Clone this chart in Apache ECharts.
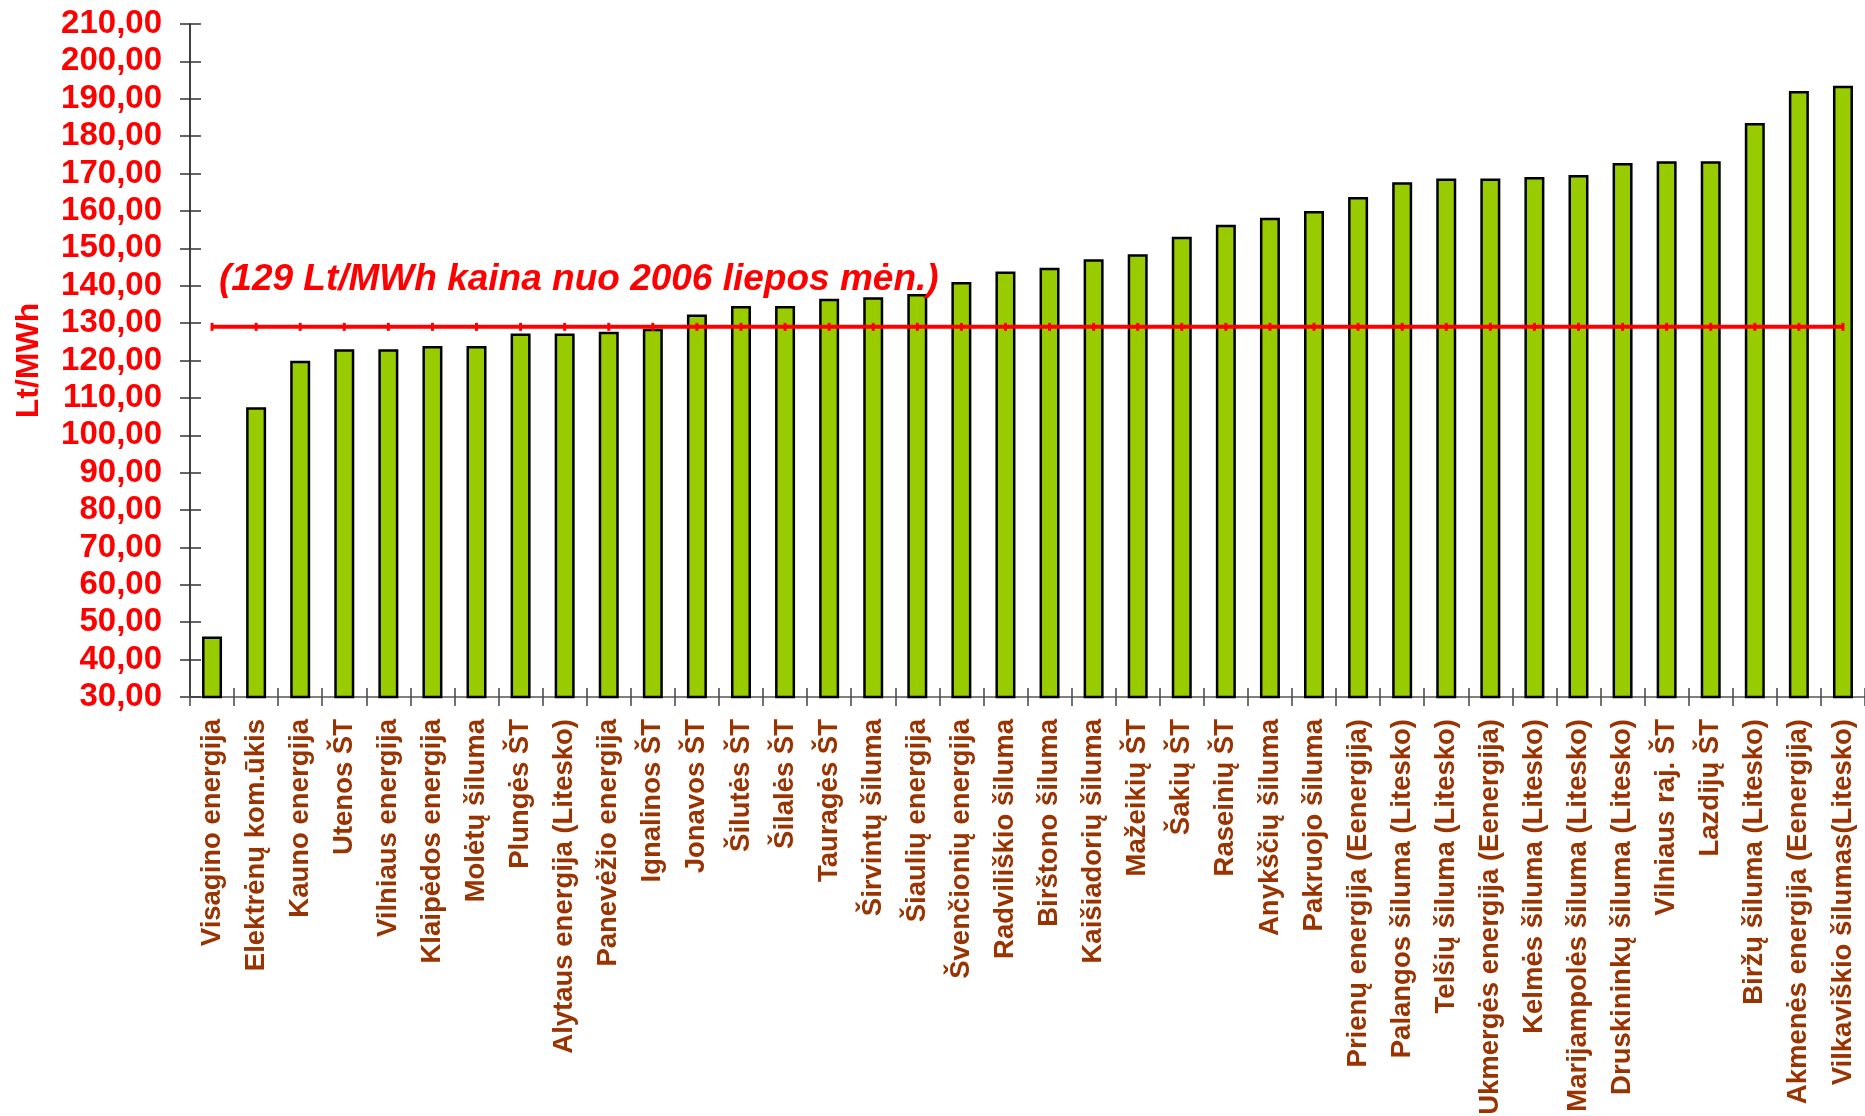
<!DOCTYPE html>
<html>
<head>
<meta charset="utf-8">
<script src="https://cdn.jsdelivr.net/npm/echarts@6/dist/echarts.min.js"></script>
<style>
    html, body { margin: 0; padding: 0; background: #fff; }
    #chart { width: 1865px; height: 1116px; }
</style>
</head>
<body>
<div id="chart"></div>
<script>
var categories = ['Visagino energija', 'Elektrėnų kom.ūkis', 'Kauno energija', 'Utenos ŠT', 'Vilniaus energija',
    'Klaipėdos energija', 'Molėtų šiluma', 'Plungės ŠT', 'Alytaus energija (Litesko)', 'Panevėžio energija',
    'Ignalinos ŠT', 'Jonavos ŠT', 'Šilutės ŠT', 'Šilalės ŠT', 'Tauragės ŠT', 'Širvintų šiluma', 'Šiaulių energija',
    'Švenčionių energija', 'Radviliškio šiluma', 'Birštono šiluma', 'Kaišiadorių šiluma', 'Mažeikių ŠT', 'Šakių ŠT',
    'Raseinių ŠT', 'Anykščių šiluma', 'Pakruojo šiluma', 'Prienų energija (Eenergija)', 'Palangos šiluma (Litesko)',
    'Telšių šiluma (Litesko)', 'Ukmergės energija (Eenergija)', 'Kelmės šiluma (Litesko)',
    'Marijampolės šiluma (Litesko)', 'Druskininkų šiluma (Litesko)', 'Vilniaus raj. ŠT', 'Lazdijų ŠT',
    'Biržų šiluma (Litesko)', 'Akmenės energija (Eenergija)', 'Vilkaviškio šilumas(Litesko)'];

var prices = [46.2, 107.5, 119.9, 123.0, 123.0, 123.9, 123.9, 127.2, 127.2, 127.7,
    128.5, 132.3, 134.6, 134.6, 136.5, 136.9, 137.8, 141.0, 143.8, 144.8,
    147.1, 148.4, 153.1, 156.3, 158.2, 160.0, 163.7, 167.7, 168.7, 168.7,
    169.1, 169.6, 172.8, 173.3, 173.3, 183.5, 192.1, 193.5];

// 129 Lt/MWh reference price (July 2006)
var refPrice = [129, 129, 129, 129, 129, 129, 129, 129, 129, 129,
    129, 129, 129, 129, 129, 129, 129, 129, 129, 129,
    129, 129, 129, 129, 129, 129, 129, 129, 129, 129,
    129, 129, 129, 129, 129, 129, 129, 129];

var yMin = 30, yMax = 210, yStep = 10;
var noteText = '(129 Lt/MWh kaina nuo 2006 liepos mėn.)';
var axisName = 'Lt/MWh';

var font = "'Liberation Sans', Arial, sans-serif";
var myChart = echarts.init(document.getElementById('chart'));

option = {
    animation: false,
    backgroundColor: '#ffffff',
    title: {
        text: noteText,
        left: 219,
        top: 261,
        padding: 0,
        textStyle: {
            color: '#ff0000',
            fontFamily: font,
            fontSize: 37,
            fontWeight: 'bold',
            fontStyle: 'italic'
        }
    },
    grid: {
        left: 190,
        right: 0,
        top: 24,
        bottom: 419,
        outerBoundsMode: 'none'
    },
    xAxis: [
        {
            type: 'category',
            data: categories,
            axisLine: { lineStyle: { color: '#808080', width: 2 } },
            axisTick: { show: true, interval: 0, length: 9, lineStyle: { color: '#444', width: 1.5 } },
            axisLabel: {
                rotate: 90,
                interval: 0,
                margin: 22,
                color: '#993300',
                fontFamily: font,
                fontSize: 27.5,
                fontWeight: 'bold'
            }
        },
        {
            // inner half of the crossing ticks
            type: 'category',
            data: categories,
            position: 'bottom',
            axisLine: { show: false },
            axisTick: { show: true, interval: 0, inside: true, length: 9, lineStyle: { color: '#444', width: 1.5 } },
            axisLabel: { show: false }
        }
    ],
    yAxis: [
        {
            type: 'value',
            min: yMin,
            max: yMax,
            interval: yStep,
            name: axisName,
            nameLocation: 'middle',
            nameGap: 145,
            nameTextStyle: {
                color: '#ff0000',
                fontFamily: font,
                fontSize: 32,
                fontWeight: 'bold'
            },
            splitLine: { show: false },
            axisLine: { show: true, lineStyle: { color: '#000', width: 1.5 } },
            axisTick: { show: true, length: 10, lineStyle: { color: '#333', width: 1.5 } },
            axisLabel: {
                margin: 28,
                color: '#ff0000',
                fontFamily: font,
                fontSize: 33,
                fontWeight: 'bold',
                formatter: function (v) {
                    return v.toFixed(2).replace('.', ',');
                }
            }
        },
        {
            type: 'value',
            min: yMin,
            max: yMax,
            interval: yStep,
            position: 'left',
            splitLine: { show: false },
            axisLine: { show: false },
            axisTick: { show: true, inside: true, length: 11, lineStyle: { color: '#333', width: 1.5 } },
            axisLabel: { show: false }
        }
    ],
    series: [
        {
            name: 'Kaina',
            type: 'bar',
            barWidth: 20,
            data: prices,
            itemStyle: {
                color: '#99cc00',
                borderColor: '#000',
                borderWidth: 2.5
            }
        },
        {
            name: '129 Lt/MWh',
            type: 'line',
            data: refPrice,
            symbol: 'rect',
            symbolSize: [3, 8],
            lineStyle: { color: '#ff0000', width: 4 },
            itemStyle: { color: '#ff0000' },
            z: 5
        }
    ]
};

myChart.setOption(option);
</script>
</body>
</html>
